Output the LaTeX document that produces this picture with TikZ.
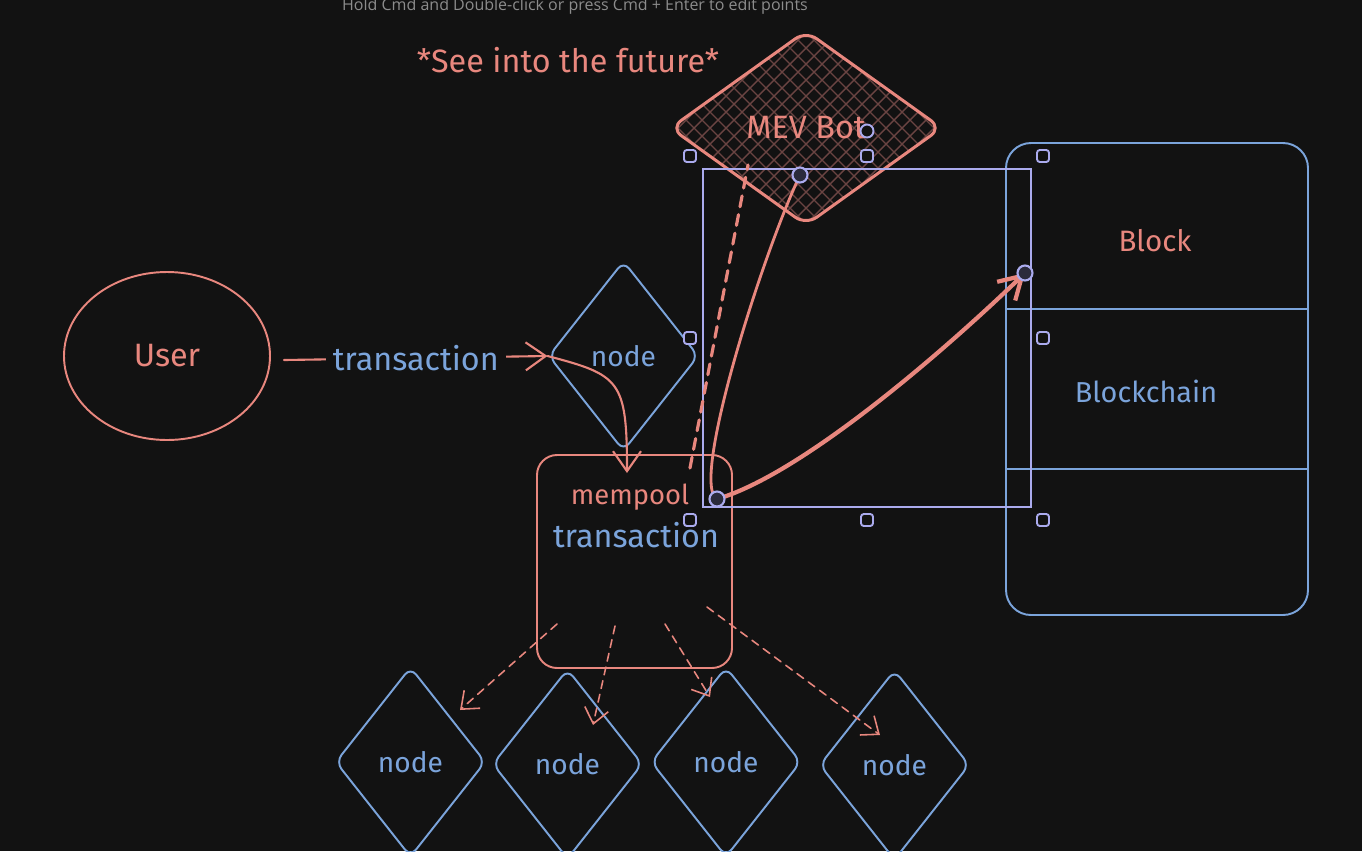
\documentclass[tikz,border=0pt]{standalone}
\usepackage{fontspec}
\setmainfont{Fira Sans}
\newfontfamily\hintfont{Open Sans}
\usepackage{xcolor}
\definecolor{BGCOLOR}{HTML}{121212}
\definecolor{REDCOLOR}{HTML}{E8877E}
\definecolor{BLUECOLOR}{HTML}{7BA4DB}
\definecolor{SELCOLOR}{HTML}{ABABEE}
\definecolor{HATCHCOLOR}{HTML}{6A4442}
\definecolor{HINTCOLOR}{HTML}{8C8C8C}
\usepackage{tikz}
\usetikzlibrary{shapes.geometric,arrows.meta,positioning}
\tikzset{
  sketch-font/.style = {
    font=\fontsize{#1}{11}\selectfont
  },
  sketch-font/.default = 9.2,
  red-text/.style = {
    sketch-font=#1, text=REDCOLOR, inner sep=1pt
  },
  red-text/.default = 9.2,
  blue-text/.style = {
    sketch-font=#1, text=BLUECOLOR, inner sep=1pt
  },
  blue-text/.default = 9.2,
  peer-style/.style = {
    diamond, draw=BLUECOLOR, line width=0.55pt,
    rounded corners=0.09cm,
    minimum width=1.5cm,
    minimum height=1.9cm,
    inner sep=0pt, blue-text=8
  },
  bot-style/.style = {
    diamond, draw=REDCOLOR, line width=0.85pt,
    rounded corners=0.13cm,
    minimum width=2.72cm,
    minimum height=1.95cm,
    inner sep=0pt, red-text,
    path picture = {
      \foreach \k in {-16,...,16} {
        \draw[HATCHCOLOR, line width=0.4pt]
          ([shift={(\k*0.16-2,-2)}]path picture bounding box.center) -- ++(4,4);
        \draw[HATCHCOLOR, line width=0.4pt]
          ([shift={(\k*0.16+2,-2)}]path picture bounding box.center) -- ++(-4,4);
      }
    }
  },
  box-style/.style = {
    rectangle, draw=#1, line width=0.55pt,
    rounded corners=0.2cm,
    inner sep=0pt
  },
  red-line/.style = {
    draw=REDCOLOR, line width=0.6pt, line cap=round
  },
  push-style/.style = {
    red-line, line width=0.45pt,
    dash pattern=on 0.08cm off 0.06cm,
    -{Straight Barb[length=1.5mm,width=2.4mm]}
  },
  handle-style/.style = {
    draw=SELCOLOR, fill=BGCOLOR, line width=0.55pt, rounded corners=0.8pt
  },
  point-style/.style = {
    draw=SELCOLOR, fill=black!75!SELCOLOR, line width=0.6pt
  },
  >={Straight Barb[length=2mm,width=2.8mm]}
}

\begin{document}
\begin{tikzpicture}[x=1cm,y=-1cm]
    %%% canvas
    \fill[BGCOLOR] (0,0) rectangle (13.62,8.51);
    \useasboundingbox (0,0) rectangle (13.62,8.51);
    \clip (0,0) rectangle (13.62,8.51);
    \node[text=HINTCOLOR, font=\hintfont\fontsize{4.55}{5}\selectfont] (hint) at (5.75,0.06)
      {Hold Cmd and Double-click or press Cmd + Enter to edit points};

    %%% user and first node
    \node[ellipse, draw=REDCOLOR, line width=0.55pt, minimum width=2.06cm, minimum height=1.68cm,
      red-text] (user) at (1.67,3.56) {User};
    \node[peer-style] (peerTop) at (6.235,3.56) {node};
    \coordinate (txStart) at (2.84,3.60);
    \draw[red-line,->] (txStart) -- node[fill=BGCOLOR, blue-text, inner sep=2pt] (txLabel) {transaction}
      (peerTop.west);

    %%% mempool
    \node[box-style=REDCOLOR, minimum width=1.95cm, minimum height=2.13cm] (pool) at (6.345,5.615) {};
    \node[red-text=7.8] (poolText) at (6.30,4.97) {mempool};
    \node[blue-text, below=0.04cm of poolText.south, anchor=north, xshift=0.06cm] (poolTx) {transaction};
    \coordinate (poolIn) at (6.27,4.73);
    \draw[red-line,->] (peerTop.west) .. controls (6.20,3.75) and (6.27,3.80) .. (poolIn);

    %%% blockchain
    \node[box-style=BLUECOLOR, rounded corners=0.25cm, minimum width=3.02cm, minimum height=4.72cm]
      (chain) at (11.57,3.79) {};
    \draw[BLUECOLOR, line width=0.55pt] (chain.west |- 0,3.09) -- (chain.east |- 0,3.09);
    \draw[BLUECOLOR, line width=0.55pt] (chain.west |- 0,4.69) -- (chain.east |- 0,4.69);
    \node[red-text=8.4] (blockText) at (11.55,2.41) {Block};
    \node[blue-text=8.2] (chainText) at (11.46,3.91) {Blockchain};

    %%% mev bot
    \node[red-text] (future) at (5.68,0.60) {*See into the future*};
    \node[bot-style] (bot) at (8.06,1.28) {MEV Bot};

    %%% peers below
    \node[peer-style] (peerA) at (4.105,7.62) {node};
    \node[peer-style] (peerB) at (5.675,7.64) {node};
    \node[peer-style] (peerC) at (7.26,7.62) {node};
    \node[peer-style] (peerD) at (8.945,7.65) {node};
    \coordinate (outA) at (5.57,6.24);
    \coordinate (outB) at (6.15,6.26);
    \coordinate (outC) at (6.65,6.24);
    \coordinate (outD) at (7.07,6.07);
    \coordinate (inA) at (4.60,7.10);
    \coordinate (inB) at (5.93,7.25);
    \coordinate (inC) at (7.10,6.97);
    \coordinate (inD) at (8.80,7.35);
    \draw[push-style] (outA) -- (inA);
    \draw[push-style] (outB) -- (inB);
    \draw[push-style] (outC) -- (inC);
    \draw[push-style] (outD) -- (inD);

    %%% selection
    \draw[SELCOLOR, line width=0.4pt] (7.03,1.69) rectangle (10.31,5.07);
    \foreach \hx/\hy in {6.90/1.56, 8.67/1.56, 10.43/1.56, 6.90/3.38, 10.43/3.38,
                         6.90/5.20, 8.67/5.20, 10.43/5.20} {
      \draw[handle-style] (\hx-0.06,\hy-0.06) rectangle (\hx+0.06,\hy+0.06);
    }
    \draw[handle-style] (8.67,1.31) circle (0.065);

    %%% arrows to bot and block
    \coordinate (botIn) at (8.00,1.75);
    \coordinate (arrowBase) at (7.17,4.99);
    \coordinate (blockIn) at (10.25,2.73);
    \coordinate (dashStart) at (6.90,4.68);
    \coordinate (dashEnd) at (7.48,1.65);
    \draw[red-line, line width=0.9pt, dash pattern=on 0.11cm off 0.08cm] (dashStart) -- (dashEnd);
    \draw[red-line, line width=0.8pt] (arrowBase) .. controls (6.90,4.85) and (7.60,2.60) .. (botIn);
    \draw[red-line, line width=1.2pt, -{Straight Barb[length=2.2mm,width=2.6mm]}]
      (arrowBase) .. controls (8.00,4.75) and (9.40,3.55) .. (blockIn);
    \foreach \p in {botIn, arrowBase, blockIn} {
      \draw[point-style] (\p) circle (0.075);
    }
  \end{tikzpicture}
\end{document}
